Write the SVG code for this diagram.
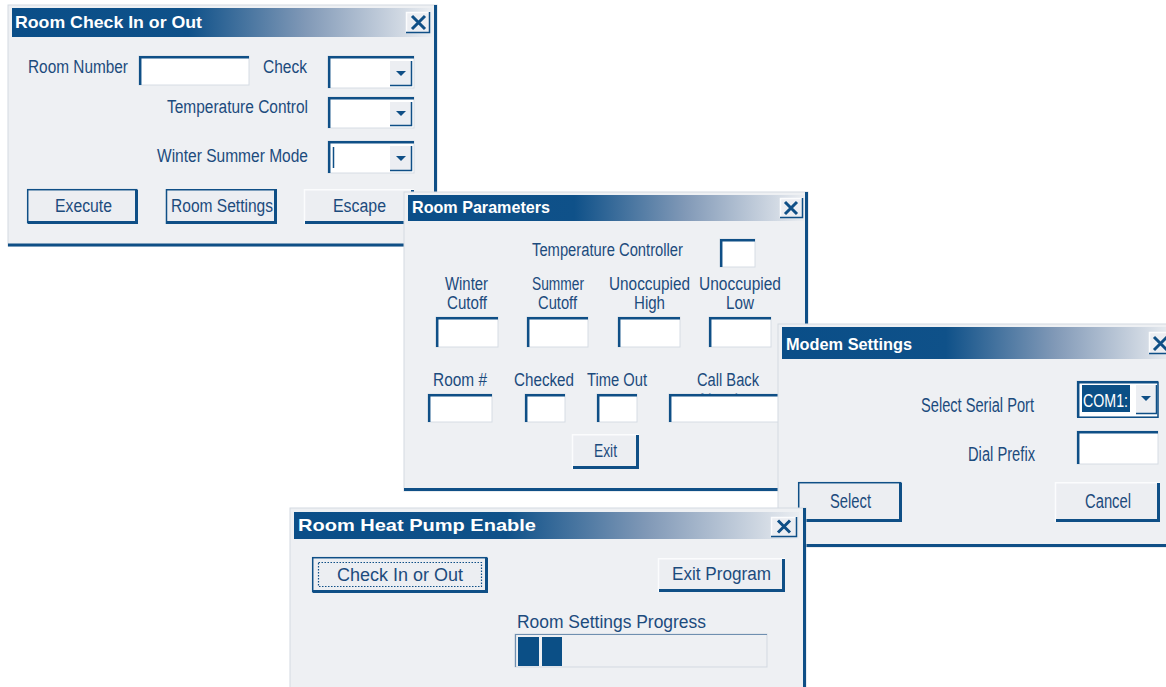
<svg xmlns="http://www.w3.org/2000/svg" width="1166" height="687" viewBox="0 0 1166 687">
  <defs>
    <linearGradient id="tb" x1="0" y1="0" x2="1" y2="0">
      <stop offset="0" stop-color="#0a4e88"/>
      <stop offset="0.42" stop-color="#0f5189"/>
      <stop offset="0.7" stop-color="#8199b7"/>
      <stop offset="1" stop-color="#eaedf1"/>
    </linearGradient>
    <style>
      .win{fill:#eef0f3;stroke:#d3d9e1;stroke-width:1}
      .edge{stroke:#0f4f86;stroke-width:3;fill:none}
      .ttl{font-family:"Liberation Sans",Arial,sans-serif;font-weight:bold;font-size:17px;fill:#ffffff}
      .lbl{font-family:"Liberation Sans",Arial,sans-serif;font-size:18px;fill:#1c4b7d}
      .big{font-size:20px}
      .fld{fill:#ffffff;stroke:#d6dce4;stroke-width:1}
      .sunk{stroke:#0f4f86;stroke-width:2.5;fill:none}
      .face{fill:#eceef2}
      .hi{stroke:#fbfcfd;stroke-width:1.5;fill:none}
      .sh{stroke:#0f4f86;stroke-width:3;fill:none}
      .frame{stroke:#0f4f86;stroke-width:1.5;fill:none}
      .xic{stroke:#0f4f86;stroke-width:3;fill:none;stroke-linecap:butt}
      .tri{fill:#0f4f86}
      .bar{fill:#0b4f86}
      .focus{stroke:#0f4f86;stroke-width:1.2;stroke-dasharray:1.5 1.5;fill:none}
    </style>
  </defs>

  <rect width="1166" height="687" fill="#ffffff"/>

  <!-- Room Check In or Out -->
  <g id="dlg-check">
    <rect class="win" x="8" y="5" width="429" height="241"/>
    <line class="edge" x1="435.5" y1="5" x2="435.5" y2="246"/>
    <line class="edge" x1="8" y1="245" x2="437" y2="245"/>
    <rect x="12" y="8" width="420" height="29" fill="url(#tb)"/>
    <text class="ttl" x="15" y="28" textLength="187" lengthAdjust="spacingAndGlyphs">Room Check In or Out</text>
    <g id="dlg-check-close">
      <rect class="face" x="406" y="12" width="24" height="21"/>
      <path class="hi" d="M406.5,33 V12.5 H430"/>
      <path class="frame" d="M406,32.5 H429.5 V12"/>
      <path class="xic" d="M412,16 L425,29 M425,16 L412,29"/>
    </g>

    <text class="lbl" x="28" y="73" textLength="100" lengthAdjust="spacingAndGlyphs">Room Number</text>
    <rect class="fld" x="139" y="56" width="110" height="29"/>
    <path class="sunk" d="M140.2,85 V57.2 H249"/>

    <text class="lbl" x="263" y="73" textLength="44" lengthAdjust="spacingAndGlyphs">Check</text>
    <rect class="fld" x="328" y="56" width="86" height="32"/>
    <path class="sunk" d="M329.2,88 V57.2 H414"/>
    <rect class="face" x="390" y="61" width="22" height="25"/>
    <path class="frame" d="M390,85.5 H411.5 V61"/>
    <polygon class="tri" points="396,71 406,71 401,76"/>

    <text class="lbl" x="167" y="113" textLength="141" lengthAdjust="spacingAndGlyphs">Temperature Control</text>
    <rect class="fld" x="328" y="97" width="86" height="31"/>
    <path class="sunk" d="M329.2,128 V98.2 H414"/>
    <rect class="face" x="390" y="102" width="22" height="24"/>
    <path class="frame" d="M390,125.5 H411.5 V102"/>
    <polygon class="tri" points="396,111 406,111 401,116"/>

    <text class="lbl" x="157" y="162" textLength="151" lengthAdjust="spacingAndGlyphs">Winter Summer Mode</text>
    <rect class="fld" x="328" y="141" width="86" height="32"/>
    <path class="sunk" d="M329.2,173 V142.2 H414"/>
    <rect class="face" x="390" y="146" width="22" height="25"/>
    <path class="frame" d="M390,170.5 H411.5 V146"/>
    <polygon class="tri" points="396,156 406,156 401,161"/>
    <line x1="333.5" y1="147" x2="333.5" y2="168" stroke="#0f4f86" stroke-width="1.5"/>

    <g id="btn-execute">
      <rect class="face" x="27" y="189" width="111" height="35"/>
      <rect class="frame" x="27.7" y="189.7" width="109" height="33"/>
      <path class="sh" d="M28,222.5 H136.5 V190"/>
      <text class="lbl" x="55" y="212" textLength="57" lengthAdjust="spacingAndGlyphs">Execute</text>
    </g>
    <g id="btn-room-settings">
      <rect class="face" x="166" y="189" width="111" height="35"/>
      <path class="frame" d="M166.5,224 V189.7 H277"/>
      <path class="sh" d="M167,222.5 H275.5 V190"/>
      <text class="lbl" x="171" y="212" textLength="102" lengthAdjust="spacingAndGlyphs">Room Settings</text>
    </g>
    <g id="btn-escape">
      <rect class="face" x="304" y="189" width="110" height="35"/>
      <path class="hi" d="M304.5,224 V189.7 H414"/>
      <path class="sh" d="M305,222.5 H412.5 V190"/>
      <text class="lbl" x="333" y="212" textLength="53" lengthAdjust="spacingAndGlyphs">Escape</text>
    </g>
  </g>

  <!-- Room Parameters -->
  <g id="dlg-params">
    <rect class="win" x="404" y="192" width="404" height="299"/>
    <line class="edge" x1="806.5" y1="192" x2="806.5" y2="491"/>
    <line class="edge" x1="404" y1="489.5" x2="808" y2="489.5"/>
    <rect x="408" y="195" width="396" height="26" fill="url(#tb)"/>
    <text class="ttl" x="412" y="213" font-size="16" textLength="138" lengthAdjust="spacingAndGlyphs">Room Parameters</text>
    <g id="dlg-params-close">
      <rect class="face" x="780" y="198" width="23" height="20"/>
      <path class="hi" d="M780.5,218 V198.5 H803"/>
      <path class="frame" d="M780,217.5 H802.5 V198"/>
      <path class="xic" d="M785,202 L797,214 M797,202 L785,214"/>
    </g>

    <text class="lbl" x="532" y="256" textLength="151" lengthAdjust="spacingAndGlyphs">Temperature Controller</text>
    <rect class="fld" x="720" y="239" width="35" height="28"/>
    <path class="sunk" d="M721.2,267 V240.2 H755"/>

    <text class="lbl" x="445" y="290" textLength="43" lengthAdjust="spacingAndGlyphs">Winter</text>
    <text class="lbl" x="447" y="309" textLength="40" lengthAdjust="spacingAndGlyphs">Cutoff</text>
    <text class="lbl" x="532" y="290" textLength="52" lengthAdjust="spacingAndGlyphs">Summer</text>
    <text class="lbl" x="538" y="309" textLength="39" lengthAdjust="spacingAndGlyphs">Cutoff</text>
    <text class="lbl" x="609" y="290" textLength="81" lengthAdjust="spacingAndGlyphs">Unoccupied</text>
    <text class="lbl" x="634" y="309" textLength="31" lengthAdjust="spacingAndGlyphs">High</text>
    <text class="lbl" x="699" y="290" textLength="82" lengthAdjust="spacingAndGlyphs">Unoccupied</text>
    <text class="lbl" x="726" y="309" textLength="28" lengthAdjust="spacingAndGlyphs">Low</text>

    <rect class="fld" x="436" y="317" width="62" height="30"/>
    <path class="sunk" d="M437.2,347 V318.2 H498"/>
    <rect class="fld" x="527" y="317" width="61" height="30"/>
    <path class="sunk" d="M528.2,347 V318.2 H588"/>
    <rect class="fld" x="618" y="317" width="62" height="30"/>
    <path class="sunk" d="M619.2,347 V318.2 H680"/>
    <rect class="fld" x="709" y="317" width="62" height="30"/>
    <path class="sunk" d="M710.2,347 V318.2 H771"/>

    <text class="lbl" x="433" y="386" textLength="54" lengthAdjust="spacingAndGlyphs">Room #</text>
    <text class="lbl" x="514" y="386" textLength="60" lengthAdjust="spacingAndGlyphs">Checked</text>
    <text class="lbl" x="587" y="386" textLength="60" lengthAdjust="spacingAndGlyphs">Time Out</text>
    <text class="lbl" x="697" y="386" textLength="62" lengthAdjust="spacingAndGlyphs">Call Back</text>
    <text class="lbl" x="700" y="406" textLength="58" lengthAdjust="spacingAndGlyphs">Number</text>

    <rect class="fld" x="428" y="394" width="64" height="28"/>
    <path class="sunk" d="M429.2,422 V395.2 H492"/>
    <rect class="fld" x="525" y="394" width="40" height="28"/>
    <path class="sunk" d="M526.2,422 V395.2 H565"/>
    <rect class="fld" x="597" y="394" width="40" height="28"/>
    <path class="sunk" d="M598.2,422 V395.2 H637"/>
    <rect class="fld" x="669" y="394" width="115" height="28"/>
    <path class="sunk" d="M670.2,422 V395.2 H784"/>

    <g id="btn-exit">
      <rect class="face" x="572" y="434" width="67" height="35"/>
      <path class="hi" d="M572.5,469 V434.7 H639"/>
      <path class="sh" d="M573,467.5 H637.5 V435"/>
      <text class="lbl" x="594" y="457" textLength="23" lengthAdjust="spacingAndGlyphs">Exit</text>
    </g>
  </g>

  <!-- Modem Settings -->
  <g id="dlg-modem">
    <rect class="win" x="778" y="324" width="392" height="223"/>
    <line class="edge" x1="778" y1="545.5" x2="1166" y2="545.5"/>
    <rect x="782" y="327" width="390" height="32" fill="url(#tb)"/>
    <text class="ttl" x="786" y="350" font-size="18" textLength="126" lengthAdjust="spacingAndGlyphs">Modem Settings</text>
    <g id="dlg-modem-close">
      <rect class="face" x="1149" y="332" width="22" height="22"/>
      <path class="hi" d="M1149.5,354 V332.5 H1170"/>
      <path class="frame" d="M1149,353.5 H1170"/>
      <path class="xic" d="M1154,337 L1167,350 M1167,337 L1154,350"/>
    </g>

    <text class="lbl big" x="921" y="412" textLength="113" lengthAdjust="spacingAndGlyphs">Select Serial Port</text>
    <rect class="fld" x="1077" y="381" width="81" height="36"/>
    <path class="sunk" d="M1078.2,417 V382.2 H1158"/>
    <path class="frame" d="M1158,381.5 V417.2 H1077"/>
    <rect class="bar" x="1082" y="385" width="48" height="27"/>
    <text x="1083" y="407" font-family="Liberation Sans, Arial, sans-serif" font-size="19" fill="#ffffff" textLength="45" lengthAdjust="spacingAndGlyphs">COM1:</text>
    <rect class="face" x="1136" y="385" width="21" height="29"/>
    <path class="frame" d="M1136,413.5 H1156.5 V385"/>
    <polygon class="tri" points="1141,396 1151,396 1146,401"/>

    <text class="lbl big" x="968" y="461" textLength="67" lengthAdjust="spacingAndGlyphs">Dial Prefix</text>
    <rect class="fld" x="1077" y="431" width="81" height="33"/>
    <path class="sunk" d="M1078.2,464 V432.2 H1158"/>

    <g id="btn-select">
      <rect class="face" x="798" y="482" width="104" height="40"/>
      <rect class="frame" x="798.7" y="482.7" width="102" height="38"/>
      <path class="sh" d="M799,520.5 H900.5 V483"/>
      <text class="lbl big" x="830" y="508" textLength="41" lengthAdjust="spacingAndGlyphs">Select</text>
    </g>
    <g id="btn-cancel">
      <rect class="face" x="1055" y="482" width="105" height="40"/>
      <path class="hi" d="M1055.5,522 V482.7 H1160"/>
      <path class="sh" d="M1056,520.5 H1158.5 V483"/>
      <text class="lbl big" x="1085" y="508" textLength="46" lengthAdjust="spacingAndGlyphs">Cancel</text>
    </g>
  </g>

  <!-- Room Heat Pump Enable -->
  <g id="dlg-main">
    <rect class="win" x="290" y="508" width="516" height="182"/>
    <line class="edge" x1="804.5" y1="508" x2="804.5" y2="687"/>
    <rect x="294" y="512" width="505" height="27" fill="url(#tb)"/>
    <text class="ttl" x="298" y="531" textLength="238" lengthAdjust="spacingAndGlyphs">Room Heat Pump Enable</text>
    <g id="dlg-main-close">
      <rect class="face" x="771" y="517" width="26" height="20"/>
      <path class="hi" d="M771.5,537 V517.5 H797"/>
      <path class="frame" d="M771,536.5 H796.5 V517"/>
      <path class="xic" d="M778,520.5 L790,532.5 M790,520.5 L778,532.5"/>
    </g>

    <g id="btn-check-in-out">
      <rect class="face" x="312" y="557" width="176" height="36"/>
      <rect class="frame" x="312.7" y="557.7" width="174" height="34"/>
      <path class="sh" d="M313,591.5 H486.5 V558"/>
      <rect class="focus" x="318.5" y="562.5" width="163" height="24"/>
      <text class="lbl" x="337" y="581" textLength="126" lengthAdjust="spacingAndGlyphs">Check In or Out</text>
    </g>
    <g id="btn-exit-program">
      <rect class="face" x="658" y="558" width="127" height="34"/>
      <path class="hi" d="M658.5,592 V558.7 H785"/>
      <path class="sh" d="M659,590.5 H783.5 V559"/>
      <text class="lbl" x="672" y="580" textLength="99" lengthAdjust="spacingAndGlyphs">Exit Program</text>
    </g>

    <text class="lbl" x="517" y="628" textLength="189" lengthAdjust="spacingAndGlyphs">Room Settings Progress</text>
    <rect x="515" y="634" width="252" height="33" fill="#eef0f3" stroke="#d3d9e1"/>
    <path d="M515.5,667 V634.5 H767" stroke="#6f8fb0" stroke-width="1.2" fill="none"/>
    <rect class="bar" x="518" y="637" width="21" height="29"/>
    <rect class="bar" x="542" y="637" width="20" height="29"/>
  </g>
</svg>
